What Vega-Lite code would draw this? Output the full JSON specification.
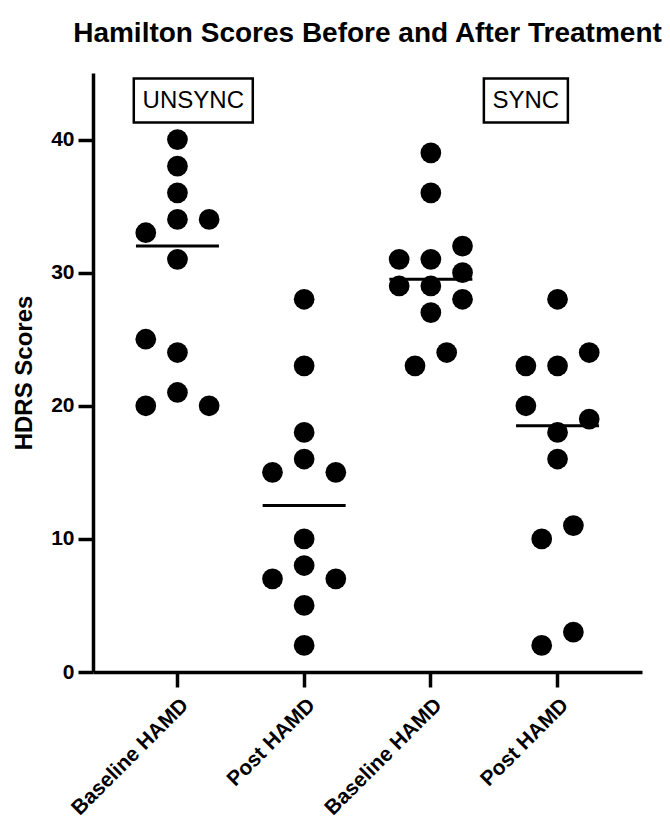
{
  "$schema": "https://vega.github.io/schema/vega-lite/v6.json",
  "width": 549,
  "height": 599,
  "autosize": {"type": "none"},
  "padding": {"left": 93, "top": 73, "right": 28, "bottom": 152},
  "background": "white",
  "title": {
    "text": "Hamilton Scores Before and After Treatment",
    "font": "Liberation Sans",
    "fontSize": 28,
    "fontWeight": "bold",
    "color": "black",
    "anchor": "middle",
    "offset": 25
  },
  "config": {
    "view": {"stroke": null},
    "axis": {
      "domainColor": "black",
      "tickColor": "black",
      "labelColor": "black",
      "titleColor": "black",
      "labelFont": "Liberation Sans",
      "titleFont": "Liberation Sans",
      "labelFontWeight": "bold",
      "titleFontWeight": "bold",
      "grid": false,
      "domainWidth": 3.5,
      "tickWidth": 3.5,
      "tickSize": 15
    }
  },
  "datasets": {
    "scores": [
      {"group": "UNSYNC|Baseline HAMD", "score": 40, "slot": 0},
      {"group": "UNSYNC|Baseline HAMD", "score": 38, "slot": 0},
      {"group": "UNSYNC|Baseline HAMD", "score": 36, "slot": 0},
      {"group": "UNSYNC|Baseline HAMD", "score": 34, "slot": 0},
      {"group": "UNSYNC|Baseline HAMD", "score": 34, "slot": 2},
      {"group": "UNSYNC|Baseline HAMD", "score": 33, "slot": -2},
      {"group": "UNSYNC|Baseline HAMD", "score": 31, "slot": 0},
      {"group": "UNSYNC|Baseline HAMD", "score": 25, "slot": -2},
      {"group": "UNSYNC|Baseline HAMD", "score": 24, "slot": 0},
      {"group": "UNSYNC|Baseline HAMD", "score": 21, "slot": 0},
      {"group": "UNSYNC|Baseline HAMD", "score": 20, "slot": -2},
      {"group": "UNSYNC|Baseline HAMD", "score": 20, "slot": 2},
      {"group": "UNSYNC|Post HAMD", "score": 28, "slot": 0},
      {"group": "UNSYNC|Post HAMD", "score": 23, "slot": 0},
      {"group": "UNSYNC|Post HAMD", "score": 18, "slot": 0},
      {"group": "UNSYNC|Post HAMD", "score": 16, "slot": 0},
      {"group": "UNSYNC|Post HAMD", "score": 15, "slot": -2},
      {"group": "UNSYNC|Post HAMD", "score": 15, "slot": 2},
      {"group": "UNSYNC|Post HAMD", "score": 10, "slot": 0},
      {"group": "UNSYNC|Post HAMD", "score": 8, "slot": 0},
      {"group": "UNSYNC|Post HAMD", "score": 7, "slot": -2},
      {"group": "UNSYNC|Post HAMD", "score": 7, "slot": 2},
      {"group": "UNSYNC|Post HAMD", "score": 5, "slot": 0},
      {"group": "UNSYNC|Post HAMD", "score": 2, "slot": 0},
      {"group": "SYNC|Baseline HAMD", "score": 39, "slot": 0},
      {"group": "SYNC|Baseline HAMD", "score": 36, "slot": 0},
      {"group": "SYNC|Baseline HAMD", "score": 32, "slot": 2},
      {"group": "SYNC|Baseline HAMD", "score": 31, "slot": -2},
      {"group": "SYNC|Baseline HAMD", "score": 31, "slot": 0},
      {"group": "SYNC|Baseline HAMD", "score": 30, "slot": 2},
      {"group": "SYNC|Baseline HAMD", "score": 29, "slot": -2},
      {"group": "SYNC|Baseline HAMD", "score": 29, "slot": 0},
      {"group": "SYNC|Baseline HAMD", "score": 28, "slot": 2},
      {"group": "SYNC|Baseline HAMD", "score": 27, "slot": 0},
      {"group": "SYNC|Baseline HAMD", "score": 24, "slot": 1},
      {"group": "SYNC|Baseline HAMD", "score": 23, "slot": -1},
      {"group": "SYNC|Post HAMD", "score": 28, "slot": 0},
      {"group": "SYNC|Post HAMD", "score": 24, "slot": 2},
      {"group": "SYNC|Post HAMD", "score": 23, "slot": -2},
      {"group": "SYNC|Post HAMD", "score": 23, "slot": 0},
      {"group": "SYNC|Post HAMD", "score": 20, "slot": -2},
      {"group": "SYNC|Post HAMD", "score": 19, "slot": 2},
      {"group": "SYNC|Post HAMD", "score": 18, "slot": 0},
      {"group": "SYNC|Post HAMD", "score": 16, "slot": 0},
      {"group": "SYNC|Post HAMD", "score": 11, "slot": 1},
      {"group": "SYNC|Post HAMD", "score": 10, "slot": -1},
      {"group": "SYNC|Post HAMD", "score": 3, "slot": 1},
      {"group": "SYNC|Post HAMD", "score": 2, "slot": -1}
    ],
    "boxes": [
      {"group": "UNSYNC|Baseline HAMD", "label": "UNSYNC", "slot": 1, "level": 42.93},
      {"group": "SYNC|Post HAMD", "label": "SYNC", "slot": -2, "level": 42.93}
    ]
  },
  "layer": [
    {
      "data": {"name": "scores"},
      "mark": {"type": "point", "filled": true, "shape": "circle", "color": "black", "opacity": 1, "size": 430},
      "encoding": {
        "x": {
          "field": "group",
          "type": "nominal",
          "sort": ["UNSYNC|Baseline HAMD", "UNSYNC|Post HAMD", "SYNC|Baseline HAMD", "SYNC|Post HAMD"],
          "scale": {"paddingInner": 0, "paddingOuter": 0.1666},
          "axis": {
            "title": null,
            "labelExpr": "split(datum.label, '|')[1]",
            "labelAngle": -45,
            "labelFontSize": 21,
            "labelPadding": 7
          }
        },
        "xOffset": {"field": "slot", "type": "quantitative", "scale": {"domain": [-4, 4]}},
        "y": {
          "field": "score",
          "type": "quantitative",
          "scale": {"domain": [0, 45], "nice": false},
          "axis": {
            "title": "HDRS Scores",
            "values": [0, 10, 20, 30, 40],
            "labelFontSize": 21,
            "labelPadding": 4,
            "titleFontSize": 24,
            "titlePadding": 14
          }
        }
      }
    },
    {
      "data": {"name": "scores"},
      "mark": {"type": "tick", "color": "black", "thickness": 3, "size": 83, "opacity": 1},
      "encoding": {
        "x": {"field": "group", "type": "nominal", "sort": ["UNSYNC|Baseline HAMD", "UNSYNC|Post HAMD", "SYNC|Baseline HAMD", "SYNC|Post HAMD"]},
        "y": {"aggregate": "median", "field": "score", "type": "quantitative", "title": "HDRS Scores"}
      }
    },
    {
      "data": {"name": "boxes"},
      "transform": [{"filter": "datum.label === 'UNSYNC'"}],
      "mark": {"type": "point", "shape": "M-1,-0.37H1V0.37H-1Z", "size": 14161, "filled": false, "stroke": "black", "strokeWidth": 2.5, "opacity": 1},
      "encoding": {
        "x": {"field": "group", "type": "nominal", "sort": ["UNSYNC|Baseline HAMD", "UNSYNC|Post HAMD", "SYNC|Baseline HAMD", "SYNC|Post HAMD"]},
        "xOffset": {"field": "slot", "type": "quantitative"},
        "y": {"field": "level", "type": "quantitative", "title": "HDRS Scores"}
      }
    },
    {
      "data": {"name": "boxes"},
      "transform": [{"filter": "datum.label === 'SYNC'"}],
      "mark": {"type": "point", "shape": "M-1,-0.524H1V0.524H-1Z", "size": 7056, "filled": false, "stroke": "black", "strokeWidth": 2.5, "opacity": 1},
      "encoding": {
        "x": {"field": "group", "type": "nominal", "sort": ["UNSYNC|Baseline HAMD", "UNSYNC|Post HAMD", "SYNC|Baseline HAMD", "SYNC|Post HAMD"]},
        "xOffset": {"field": "slot", "type": "quantitative"},
        "y": {"field": "level", "type": "quantitative", "title": "HDRS Scores"}
      }
    },
    {
      "data": {"name": "boxes"},
      "mark": {"type": "text", "font": "Liberation Sans", "fontSize": 24, "color": "black", "align": "center", "baseline": "middle"},
      "encoding": {
        "x": {"field": "group", "type": "nominal", "sort": ["UNSYNC|Baseline HAMD", "UNSYNC|Post HAMD", "SYNC|Baseline HAMD", "SYNC|Post HAMD"]},
        "xOffset": {"field": "slot", "type": "quantitative"},
        "y": {"field": "level", "type": "quantitative", "title": "HDRS Scores"},
        "text": {"field": "label"}
      }
    }
  ]
}
